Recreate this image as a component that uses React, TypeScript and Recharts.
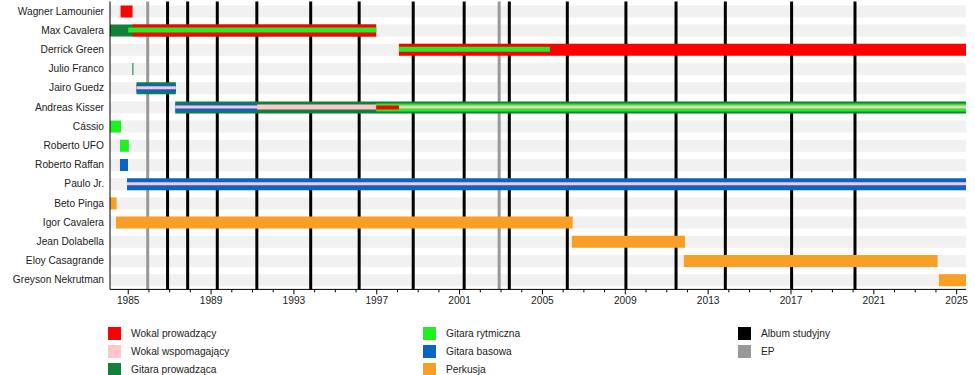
import { BarChart, Bar, XAxis, YAxis, ReferenceLine } from "recharts";

const START = 1984.12;
const END = 2025.45;

const members = [
  "Wagner Lamounier",
  "Max Cavalera",
  "Derrick Green",
  "Julio Franco",
  "Jairo Guedz",
  "Andreas Kisser",
  "Cássio",
  "Roberto UFO",
  "Roberto Raffan",
  "Paulo Jr.",
  "Beto Pinga",
  "Igor Cavalera",
  "Jean Dolabella",
  "Eloy Casagrande",
  "Greyson Nekrutman",
];

type Span = [string, number, number];

// outer (full height) bars
const leadGuitar: Span[] = [
  ["Max Cavalera", START, 1996.97],
  ["Julio Franco", 1985.2, 1985.25],
  ["Jairo Guedz", 1985.4, 1987.3],
  ["Andreas Kisser", 1987.27, END],
];
const leadVocals: Span[] = [
  ["Wagner Lamounier", 1984.63, 1985.21],
  ["Max Cavalera", 1985.2, 1996.97],
  ["Derrick Green", 1998.07, END],
];
const rhythmGuitar: Span[] = [
  ["Cássio", START, 1984.65],
  ["Roberto UFO", 1984.6, 1985.03],
];
const bassGuitar: Span[] = [
  ["Roberto Raffan", 1984.6, 1984.99],
  ["Paulo Jr.", 1984.94, END],
];
const drums: Span[] = [
  ["Beto Pinga", START, 1984.44],
  ["Igor Cavalera", 1984.41, 2006.46],
  ["Jean Dolabella", 2006.42, 2011.88],
  ["Eloy Casagrande", 2011.83, 2024.08],
  ["Greyson Nekrutman", 2024.14, END],
];
// inner (secondary role) bars
const backingWide: Span[] = [["Andreas Kisser", 1987.27, END]];
const bassInner: Span[] = [
  ["Jairo Guedz", 1985.4, 1987.3],
  ["Andreas Kisser", 1987.27, 1991.23],
];
const rhythmInner: Span[] = [["Andreas Kisser", 1996.97, END]];
const rhythmThin: Span[] = [
  ["Max Cavalera", 1985.0, 1996.97],
  ["Derrick Green", 1998.07, 2005.36],
];
const backingVocals: Span[] = [
  ["Jairo Guedz", 1985.4, 1987.3],
  ["Andreas Kisser", 1987.27, END],
  ["Paulo Jr.", 1984.94, END],
];
const leadVocalsInner: Span[] = [["Andreas Kisser", 1996.97, 1998.07]];

const studioAlbums = [
  1986.9, 1987.87, 1989.3, 1991.21, 1993.81, 1996.15, 1998.76, 2001.22, 2003.4,
  2006.2, 2009.03, 2011.45, 2013.83, 2017.03, 2020.09,
];
const eps = [1985.94, 2002.91];

const yearTicks = [
  1985, 1986, 1987, 1988, 1989, 1990, 1991, 1992, 1993, 1994, 1995, 1996, 1997,
  1998, 1999, 2000, 2001, 2002, 2003, 2004, 2005, 2006, 2007, 2008, 2009, 2010,
  2011, 2012, 2013, 2014, 2015, 2016, 2017, 2018, 2019, 2020, 2021, 2022, 2023,
  2024, 2025,
];
const labelYears = [1985, 1989, 1993, 1997, 2001, 2005, 2009, 2013, 2017, 2021, 2025];

const RED = "#ff0000";
const PINK = "#ffc6cc";
const DKGREEN = "#12803b";
const LIME = "#1ff01f";
const BLUE = "#0a64c8";
const ORANGE = "#fa9f26";
const FS = 10.2;

const layers = [
  { key: "leadGuitar", spans: leadGuitar, color: DKGREEN, size: 12 },
  { key: "leadVocals", spans: leadVocals, color: RED, size: 12 },
  { key: "rhythmGuitar", spans: rhythmGuitar, color: LIME, size: 12 },
  { key: "bassGuitar", spans: bassGuitar, color: BLUE, size: 12 },
  { key: "drums", spans: drums, color: ORANGE, size: 12 },
  { key: "backingWide", spans: backingWide, color: PINK, size: 5 },
  { key: "bassInner", spans: bassInner, color: BLUE, size: 8 },
  { key: "rhythmInner", spans: rhythmInner, color: LIME, size: 8 },
  { key: "rhythmThin", spans: rhythmThin, color: LIME, size: 5 },
  { key: "backingVocals", spans: backingVocals, color: PINK, size: 3 },
  { key: "leadVocalsInner", spans: leadVocalsInner, color: RED, size: 4 },
];

const data = members.map((name) => {
  const row: Record<string, any> = { name, bg: [START, END] };
  layers.forEach((l) => {
    const s = l.spans.find((sp) => sp[0] === name);
    row[l.key] = s ? [s[1], s[2]] : [START, START];
  });
  return row;
});

const legendCols = [
  [
    ["Wokal prowadzący", RED],
    ["Wokal wspomagający", PINK],
    ["Gitara prowadząca", DKGREEN],
  ],
  [
    ["Gitara rytmiczna", LIME],
    ["Gitara basowa", BLUE],
    ["Perkusja", ORANGE],
  ],
  [
    ["Album studyjny", "#000000"],
    ["EP", "#999999"],
  ],
];
const legendX = [108, 423, 738];

const YearTick = (props: any) => {
  const { x, y, payload } = props;
  const yr = Math.round(payload.value);
  const major = labelYears.includes(yr);
  return (
    <g>
      <line x1={x} x2={x} y1={y} y2={y + (major ? 5 : 3)} stroke="#000" />
      {major && (
        <text x={x} y={y + 15} textAnchor="middle" fontSize={FS} fill="#222">
          {yr}
        </text>
      )}
    </g>
  );
};

const NameTick = (props: any) => {
  const { x, y, payload } = props;
  return (
    <text x={x} y={y} dy="0.36em" textAnchor="end" fontSize={FS} fill="#222">
      {payload.value}
    </text>
  );
};

export default function App() {
  return (
    <div
      style={{
        position: "absolute",
        left: 0,
        top: 0,
        width: 975,
        height: 375,
        background: "#fff",
        fontFamily: "'Liberation Sans', Arial, sans-serif",
        fontSize: FS,
      }}
    >
      <BarChart
        width={975}
        height={375}
        data={data}
        layout="vertical"
        margin={{ top: 1.4, right: 9, bottom: 65.6, left: 0 }}
      >
        <XAxis
          type="number"
          domain={[START, END]}
          ticks={yearTicks}
          interval={0}
          allowDataOverflow
          tickLine={false}
          tickSize={0}
          tickMargin={0}
          tick={<YearTick />}
          height={20}
          axisLine={{ stroke: "#000" }}
        />
        <YAxis
          yAxisId={0}
          type="category"
          dataKey="name"
          width={110}
          tickLine={false}
          tickSize={4}
          tickMargin={2}
          axisLine={{ stroke: "#000" }}
          tick={<NameTick />}
          interval={0}
        />
        {layers.map((l) => (
          <YAxis key={l.key} yAxisId={l.key} type="category" dataKey="name" hide />
        ))}
        <Bar
          yAxisId={0}
          dataKey="bg"
          fill="#f1f1f1"
          barSize={12}
          isAnimationActive={false}
          zIndex={50}
        />
        {eps.map((v) => (
          <ReferenceLine key={"ep" + v} x={v} stroke="#999" strokeWidth={3} zIndex={60} />
        ))}
        {studioAlbums.map((v) => (
          <ReferenceLine key={"al" + v} x={v} stroke="#000" strokeWidth={3} zIndex={60} />
        ))}
        {layers.map((l, i) => (
          <Bar
            key={l.key}
            yAxisId={l.key}
            dataKey={l.key}
            fill={l.color}
            barSize={l.size}
            isAnimationActive={false}
            zIndex={100 + i}
          />
        ))}
      </BarChart>
      {legendCols.map((col, ci) =>
        col.map(([label, color], ri) => (
          <div
            key={label}
            style={{
              position: "absolute",
              left: legendX[ci],
              top: 327 + ri * 17.8,
              display: "flex",
              alignItems: "center",
              height: 13,
            }}
          >
            <div style={{ width: 13, height: 13, background: color }} />
            <span style={{ marginLeft: 10, color: "#222", fontSize: FS }}>{label}</span>
          </div>
        ))
      )}
    </div>
  );
}
